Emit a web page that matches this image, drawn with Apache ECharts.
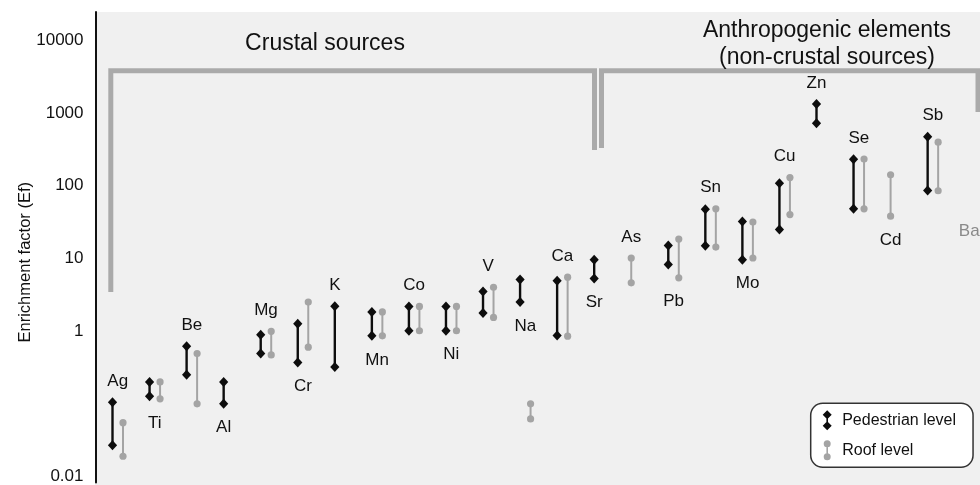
<!DOCTYPE html>
<html>
<head>
<meta charset="utf-8">
<script src="https://cdn.jsdelivr.net/npm/echarts@6/dist/echarts.min.js"></script>
<style>
  html, body { margin: 0; padding: 0; background: #fff; }
  #chart { width: 980px; height: 485px; }
</style>
</head>
<body>
<div id="chart"></div>
<script>
// Enrichment factors per element: low / high ends of each range
const elements = ['Ag','Ti','Be','Al','Mg','Cr','K','Mn','Co','Ni','V','Na','Ca','Sr','As','Pb','Sn','Mo','Cu','Zn','Se','Cd','Sb','Ba'];
const pedestrianLow  = [0.027, 0.127, 0.25, 0.10, 0.49, 0.37, 0.32, 0.86, 1.01, 1.01, 1.77, 2.5, 0.87, 5.3, null, 8.2, 14.9, 9.6, 25, 720, 48, null, 86, null];
const pedestrianHigh = [0.105, 0.20, 0.62, 0.20, 0.89, 1.26, 2.2, 1.83, 2.18, 2.18, 3.5, 5.1, 4.9, 9.6, null, 15, 47.5, 32, 108, 1320, 231, null, 470, null];
const roofLow  = [0.019, 0.117, 0.10, null, 0.47, 0.60, null, 0.86, 1.01, 1.01, 1.54, 0.062, 0.85, null, 4.6, 5.4, 14.3, 10.1, 40, null, 48, 38, 85, null];
const roofHigh = [0.055, 0.20, 0.49, null, 0.99, 2.5, null, 1.83, 2.18, 2.18, 4.0, 0.10, 5.5, null, 10.1, 18.4, 48, 31.5, 129, null, 232, 141, 396, null];

// Ba is only named, at this Ef level
const nameOnlyLevel = { Ba: 23.4 };

// Element names written under their ranges (the rest go above)
const namesBelow = ['Ti','Al','Cr','Mn','Ni','Na','Sr','Pb','Mo','Cd','Ba'];
const greyNames = ['Ba'];

const yTickLabels = ['0.01', '1', '10', '100', '1000', '10000'];

const FONT = 'Liberation Sans, Arial, Helvetica, sans-serif';
const BLACK = '#0d0d0d';
const GREY = '#a4a4a4';

const hasPed = i => pedestrianLow[i] != null;
const hasRoof = i => roofLow[i] != null;

// horizontal slot of each whisker around its category position (pixels)
const PED_DX = -4.5, ROOF_DX = 6;
const roofDx = i => hasPed(i) ? ROOF_DX : PED_DX;

// value at which each element's name is anchored
function nameAnchor(i) {
  const below = namesBelow.includes(elements[i]);
  let lo, hi;
  if (hasPed(i)) { lo = pedestrianLow[i]; hi = pedestrianHigh[i]; }
  if (hasRoof(i)) {
    if (lo == null) { lo = roofLow[i]; hi = roofHigh[i]; }
    else if (roofHigh[i] >= lo && roofLow[i] <= hi) {
      lo = Math.min(lo, roofLow[i]); hi = Math.max(hi, roofHigh[i]);
    }
  }
  if (lo == null) return { v: nameOnlyLevel[elements[i]], dy: 0 };
  return below ? { v: lo, dy: 24 } : { v: hi, dy: -21 };
}
function nameDx(i) {
  if (hasPed(i) && hasRoof(i)) return (PED_DX + ROOF_DX) / 2;
  if (hasPed(i) || hasRoof(i)) return PED_DX;
  return 0;
}

const pedData = [], roofData = [], nameData = [];
elements.forEach((el, i) => {
  if (hasPed(i)) pedData.push([i, pedestrianLow[i], pedestrianHigh[i]]);
  if (hasRoof(i)) roofData.push([i, roofLow[i], roofHigh[i]]);
  nameData.push([i, nameAnchor(i).v]);
});

function pedestrianItem(params, api) {
  const i = api.value(0);
  const a = api.coord([i, api.value(1)]);
  const b = api.coord([i, api.value(2)]);
  const x = a[0] + PED_DX;
  const d = (y) => ({
    type: 'polygon',
    shape: { points: [[x, y - 5], [x + 4.6, y], [x, y + 5], [x - 4.6, y]] },
    style: { fill: BLACK }
  });
  return {
    type: 'group',
    children: [
      { type: 'line', shape: { x1: x, y1: a[1], x2: x, y2: b[1] }, style: { stroke: BLACK, lineWidth: 2.4 } },
      d(a[1]), d(b[1])
    ]
  };
}

function roofItem(params, api) {
  const i = api.value(0);
  const a = api.coord([i, api.value(1)]);
  const b = api.coord([i, api.value(2)]);
  const x = a[0] + roofDx(i);
  const c = (y) => ({ type: 'circle', shape: { cx: x, cy: y, r: 3.6 }, style: { fill: GREY } });
  return {
    type: 'group',
    children: [
      { type: 'line', shape: { x1: x, y1: a[1], x2: x, y2: b[1] }, style: { stroke: GREY, lineWidth: 2 } },
      c(a[1]), c(b[1])
    ]
  };
}

function nameItem(params, api) {
  const i = api.value(0);
  const p = api.coord([i, api.value(1)]);
  const anchor = nameAnchor(i);
  const el = elements[i];
  return {
    type: 'text',
    x: p[0] + nameDx(i),
    y: p[1] + anchor.dy,
    style: {
      text: el,
      fill: greyNames.includes(el) ? '#8a8a8a' : '#111',
      fontSize: 17,
      fontFamily: FONT,
      align: 'center',
      verticalAlign: 'middle'
    }
  };
}

// legend glyphs: two end markers joined by a short bar
const pedIcon = 'path://M5,0L9.5,4.5L5,9L0.5,4.5Z M4.2,4.5L5.8,4.5L5.8,15.5L4.2,15.5Z M5,11L9.5,15.5L5,20L0.5,15.5Z';
const roofIcon = 'path://M1.5,3.5A3.5,3.5 0 1 1 8.5,3.5A3.5,3.5 0 1 1 1.5,3.5Z M4.2,3.5L5.8,3.5L5.8,16.5L4.2,16.5Z M1.5,16.5A3.5,3.5 0 1 1 8.5,16.5A3.5,3.5 0 1 1 1.5,16.5Z';

const chart = echarts.init(document.getElementById('chart'), null, { renderer: 'canvas' });

chart.setOption({
  animation: false,
  backgroundColor: '#ffffff',
  grid: { left: 117, top: 12, width: 852.2, height: 471 },
  xAxis: {
    type: 'category',
    data: elements,
    boundaryGap: false,
    show: false
  },
  yAxis: {
    type: 'log',
    logBase: 10,
    min: 0.00827,
    max: 24400,
    offset: 21.5,
    name: 'Enrichment factor (Ef)',
    nameLocation: 'middle',
    nameGap: 62,
    nameMoveOverlap: false,
    nameTextStyle: { fontSize: 16.5, color: '#111', fontFamily: FONT, padding: [0, 30, 0, 0] },
    axisLine: { show: true, lineStyle: { color: '#111', width: 2 } },
    axisTick: { show: false },
    splitLine: { show: false },
    axisLabel: {
      margin: 12,
      fontSize: 17,
      color: '#111',
      fontFamily: FONT,
      showMinLabel: false,
      showMaxLabel: false,
      formatter: function (v) {
        const hit = yTickLabels.find(t => Math.abs(Math.log10(v) - Math.log10(parseFloat(t))) < 1e-6);
        return hit || '';
      }
    }
  },
  legend: {
    orient: 'vertical',
    left: 810.7,
    top: 403.3,
    padding: [7, 17, 7, 12],
    itemGap: 10,
    itemWidth: 20,
    itemHeight: 20,
    backgroundColor: '#ffffff',
    borderColor: '#333',
    borderWidth: 1.5,
    borderRadius: 12,
    selectedMode: false,
    textStyle: { fontSize: 16, color: '#111', fontFamily: FONT },
    data: [
      { name: 'Pedestrian level', icon: pedIcon },
      { name: 'Roof level', icon: roofIcon }
    ]
  },
  graphic: [
    // plot panel
    { type: 'rect', z: -10, silent: true, shape: { x: 95, y: 12, width: 885, height: 473 }, style: { fill: '#f0f0f0' } },
    // group brackets
    { type: 'polyline', silent: true, shape: { points: [[110.8, 292], [110.8, 70.8], [594.5, 70.8], [594.5, 150]] },
      style: { stroke: '#aaaaaa', lineWidth: 5, fill: null, lineJoin: 'miter' } },
    { type: 'polyline', silent: true, shape: { points: [[601.5, 148], [601.5, 70.8], [978, 70.8], [978, 112]] },
      style: { stroke: '#aaaaaa', lineWidth: 5, fill: null, lineJoin: 'miter' } },
    { type: 'text', silent: true, x: 325, y: 43.5,
      style: { text: 'Crustal sources', fill: '#111', fontSize: 23, fontFamily: FONT, align: 'center', verticalAlign: 'middle' } },
    { type: 'text', silent: true, x: 827, y: 44,
      style: { text: 'Anthropogenic elements\n(non-crustal sources)', fill: '#111', fontSize: 23, lineHeight: 27, fontFamily: FONT, align: 'center', verticalAlign: 'middle' } }
  ],
  series: [
    {
      name: 'Pedestrian level',
      type: 'custom',
      itemStyle: { color: BLACK },
      encode: { x: 0, y: [1, 2] },
      renderItem: pedestrianItem,
      data: pedData,
      z: 4
    },
    {
      name: 'Roof level',
      type: 'custom',
      itemStyle: { color: GREY },
      encode: { x: 0, y: [1, 2] },
      renderItem: roofItem,
      data: roofData,
      z: 3
    },
    {
      name: 'names',
      type: 'custom',
      silent: true,
      encode: { x: 0, y: 1 },
      renderItem: nameItem,
      data: nameData,
      z: 5
    }
  ]
});
</script>
</body>
</html>
